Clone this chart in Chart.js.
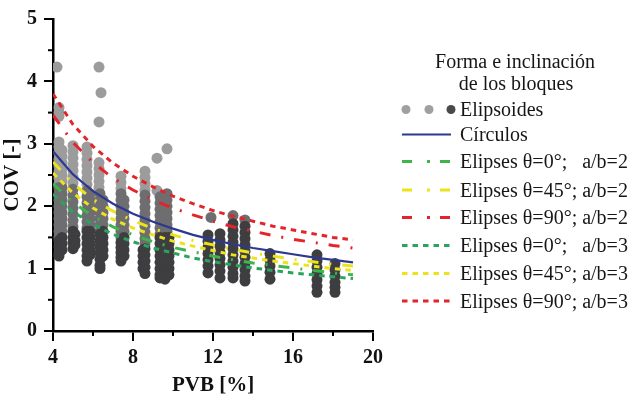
<!DOCTYPE html>
<html><head><meta charset="utf-8">
<script src="https://cdn.jsdelivr.net/npm/chart.js@4.4.1/dist/chart.umd.min.js"></script>
<style>html,body{margin:0;padding:0;background:#fff}</style>
</head><body>
<canvas id="c" width="636" height="396"></canvas>
<script>
// ---- data ----
const xTicks = [4, 8, 12, 16, 20];
const yTicks = [0, 1, 2, 3, 4, 5];
const curveX = [4,5,6,7,8,9,10,11,12,13,14,15,16,17,18,19];
const circulos   = [2.88,2.51,2.24,2.04,1.88,1.75,1.64,1.54,1.46,1.39,1.33,1.28,1.23,1.18,1.14,1.10];
const e0_ab2     = [2.36,2.06,1.84,1.67,1.54,1.43,1.34,1.27,1.20,1.14,1.09,1.05,1.01,0.97,0.93,0.90];
const e45_ab2    = [2.71,2.36,2.11,1.92,1.77,1.64,1.54,1.45,1.38,1.31,1.25,1.20,1.15,1.11,1.07,1.04];
const e90_ab2    = [3.46,3.02,2.70,2.45,2.26,2.10,1.97,1.86,1.76,1.67,1.60,1.53,1.47,1.42,1.37,1.33];
const e0_ab3     = [2.19,1.91,1.71,1.55,1.43,1.33,1.25,1.17,1.11,1.06,1.01,0.97,0.93,0.90,0.87,0.84];
const e45_ab3    = [2.53,2.21,1.97,1.79,1.65,1.54,1.44,1.36,1.29,1.22,1.17,1.12,1.08,1.04,1.00,0.97];
const e90_ab3    = [3.80,3.31,2.96,2.69,2.48,2.31,2.16,2.04,1.93,1.84,1.76,1.68,1.62,1.56,1.50,1.46];

// Elipsoides: columns of points [x, [y values]] in three grey tones
const lightCols = [
  [4.2,[4.23]],
  [4.3,[3.58,3.5,3.44,3.03,2.95,2.85,2.75,2.65,2.55,2.45,2.35]],
  [4.45,[2.9,2.8,2.7,2.6,2.5,2.4]],
  [5.0,[2.97,2.87,2.77,2.67,2.57,2.47,2.37]],
  [5.7,[2.95,2.85,2.75,2.65,2.55,2.45,2.35]],
  [6.3,[4.23,3.35,2.7,2.6,2.5,2.4,2.3]],
  [6.4,[3.82]],
  [7.4,[2.48,2.38,2.28]],
  [8.6,[2.56,2.46,2.36,2.26]],
  [9.2,[2.77,2.25]],
  [9.7,[2.92]]
];
const mediumCols = [
  [4.3,[2.3,2.2,2.1,2.0,1.9,1.8,1.7,1.6,1.5]],
  [4.45,[2.3,2.2,2.1,2.0,1.9,1.8,1.7,1.6]],
  [5.0,[2.27,2.17,2.07,1.97,1.87,1.77,1.67]],
  [5.7,[2.25,2.15,2.05,1.95,1.85,1.75,1.65]],
  [5.85,[2.2,2.1,2.0,1.9,1.8,1.7]],
  [6.35,[2.2,2.1,2.0,1.9,1.8,1.7,1.6]],
  [6.5,[2.1,2.0,1.9,1.8,1.7]],
  [7.4,[2.2,2.1,2.0,1.9,1.8,1.7,1.6,1.5]],
  [7.55,[2.1,2.0,1.9,1.8,1.7,1.6]],
  [8.6,[2.18,2.08,1.98,1.88,1.78,1.68,1.58,1.48,1.4]],
  [9.35,[2.15,2.05,1.95,1.85,1.75,1.65,1.55]],
  [9.7,[2.2,2.1,2.0,1.9,1.8,1.7,1.6]],
  [11.9,[1.82]],
  [13.0,[1.85]],
  [13.6,[1.78]]
];
const darkCols = [
  [4.3,[1.45,1.35,1.25,1.2]],
  [4.45,[1.5,1.4,1.3]],
  [5.0,[1.6,1.5,1.42,1.32]],
  [5.1,[1.55,1.45,1.38]],
  [5.7,[1.6,1.5,1.4,1.3,1.2,1.12]],
  [5.85,[1.6,1.5,1.4,1.3,1.22]],
  [6.35,[1.55,1.45,1.35,1.25,1.15,1.05,1.0]],
  [6.5,[1.6,1.5,1.4,1.3,1.2]],
  [7.4,[1.42,1.34,1.26,1.18,1.12]],
  [7.55,[1.5,1.4,1.3,1.2]],
  [8.5,[1.3,1.2,1.1,1.0]],
  [8.6,[1.32,1.22,1.12,1.02,0.92]],
  [9.35,[1.5,1.4,1.3,1.2,1.1,1.0,0.9,0.85]],
  [9.6,[1.5,1.4,1.3,1.2,1.1,1.0,0.9,0.83]],
  [9.8,[1.5,1.4,1.3,1.2,1.1,1.0,0.9]],
  [11.75,[1.54,1.44,1.34,1.24,1.14,1.04,0.93]],
  [12.35,[1.56,1.46,1.36,1.26,1.16,1.06,0.96,0.85]],
  [13.0,[1.72,1.62,1.52,1.42,1.32,1.22,1.12,1.02,0.92,0.85]],
  [13.6,[1.68,1.58,1.48,1.38,1.28,1.18,1.08,0.98,0.88,0.8]],
  [14.85,[1.24,1.14,1.04,0.94,0.83]],
  [17.2,[1.22,1.12,1.02,0.92,0.82,0.72,0.62]],
  [18.1,[1.08,0.98,0.88,0.78,0.7,0.62]]
];
const legendTitle = ['Forma e inclinación', 'de los bloques'];
const labels = ['Elipsoides','Círculos','Elipses θ=0°;   a/b=2','Elipses θ=45°; a/b=2','Elipses θ=90°; a/b=2',
                'Elipses θ=0°;   a/b=3','Elipses θ=45°; a/b=3','Elipses θ=90°; a/b=3'];
const xTitle = 'PVB [%]';
const yTitle = 'COV [-]';

// ---- build ----
const pts = cols => { const o = []; cols.forEach(([x, ys]) => ys.forEach(y => o.push({x, y}))); return o; };
const curve = ys => curveX.map((x, i) => ({x, y: ys[i]}));
const SERIF = '"Liberation Serif","Times New Roman",serif';
const DASHDOT = [11, 11, 2, 11];
const DOT = [5.5, 5];

function lineDs(label, ys, color, dash, width, order) {
  return {type: 'line', label, data: curve(ys), borderColor: color, borderWidth: width, borderDash: dash,
          pointRadius: 0, fill: false, tension: 0, order, legendDash: dash};
}
const pointDs = (data, color, order) => ({type: 'scatter', label: labels[0], data, backgroundColor: color,
          borderWidth: 0, pointRadius: 5.5, pointHoverRadius: 5.5, order});

const datasets = [
  lineDs(labels[1], circulos, '#2b3990', [], 2.2, 1),
  lineDs(labels[2], e0_ab2, '#3db54a', DASHDOT, 3, 1),
  lineDs(labels[3], e45_ab2, '#ece31c', DASHDOT, 3, 1),
  lineDs(labels[4], e90_ab2, '#e3242b', DASHDOT, 3, 1),
  lineDs(labels[5], e0_ab3, '#2aa35c', DOT, 3, 1),
  lineDs(labels[6], e45_ab3, '#ece31c', DOT, 3, 1),
  lineDs(labels[7], e90_ab3, '#e3242b', DOT, 3, 1),
  pointDs(pts(darkCols), '#3e3e40', 2),
  pointDs(pts(mediumCols), '#6e6e70', 3),
  pointDs(pts(lightCols), '#9c9c9c', 4)
];

const minorTicks = {
  id: 'minorTicks',
  afterDraw(chart) {
    const {ctx, scales: {x, y}} = chart;
    ctx.save();
    ctx.strokeStyle = '#000'; ctx.lineWidth = 2;
    [6, 10, 14, 18].forEach(v => { const px = x.getPixelForValue(v);
      ctx.beginPath(); ctx.moveTo(px, y.bottom); ctx.lineTo(px, y.bottom + 5); ctx.stroke(); });
    [0.5, 1.5, 2.5, 3.5, 4.5].forEach(v => { const py = y.getPixelForValue(v);
      ctx.beginPath(); ctx.moveTo(x.left, py); ctx.lineTo(x.left - 5, py); ctx.stroke(); });
    ctx.restore();
  }
};

const customLegend = {
  id: 'customLegend',
  afterDraw(chart) {
    const ctx = chart.ctx;
    ctx.save();
    ctx.fillStyle = '#161616';
    ctx.font = '20px ' + SERIF;
    ctx.textAlign = 'center'; ctx.textBaseline = 'alphabetic';
    ctx.fillText(legendTitle[0], 515, 68);
    ctx.fillText(legendTitle[1], 516, 90);
    const base = [116, 141, 168, 196.5, 224, 252, 280, 307.5];
    const x0 = 402, x1 = 451, tx = 460;
    ctx.textAlign = 'left';
    labels.forEach((lab, i) => {
      const yb = base[i], ys = yb - 6.5;
      if (i === 0) {
        [[406,'#a0a0a0'],[429,'#a0a0a0'],[451,'#4a4a4c']].forEach(([cx, c]) => {
          ctx.beginPath(); ctx.fillStyle = c; ctx.arc(cx, ys, 4.5, 0, Math.PI * 2); ctx.fill(); });
      } else {
        const ds = chart.data.datasets[i - 1];
        ctx.beginPath();
        ctx.strokeStyle = ds.borderColor; ctx.lineWidth = ds.borderWidth;
        ctx.setLineDash(ds.legendDash === DASHDOT ? [10, 15, 3, 10] : ds.legendDash);
        ctx.moveTo(x0, ys); ctx.lineTo(x1, ys); ctx.stroke();
        ctx.setLineDash([]);
      }
      ctx.fillStyle = '#161616';
      ctx.fillText(lab, tx, yb);
    });
    ctx.restore();
  }
};

const tickFont = {family: SERIF, size: 20, weight: 'bold'};
new Chart(document.getElementById('c'), {
  type: 'scatter',
  data: {datasets},
  options: {
    responsive: false, animation: false, devicePixelRatio: 1,
    layout: {padding: {left: 0, right: 263, top: 13, bottom: 0}},
    plugins: {legend: {display: false}, tooltip: {enabled: false}},
    scales: {
      x: {
        type: 'linear', min: 4, max: 20,
        afterFit: s => { s.height = 65; },
        afterBuildTicks: s => { s.ticks = xTicks.map(v => ({value: v})); },
        ticks: {font: tickFont, color: '#111', padding: 5, maxRotation: 0},
        grid: {drawOnChartArea: false, drawTicks: true, tickLength: 10, color: '#000', lineWidth: 2},
        border: {display: true, color: '#000', width: 2.5},
        title: {display: true, text: xTitle, color: '#111', font: {family: SERIF, size: 21, weight: 'bold', lineHeight: 1}, padding: {top: 0, bottom: 0}}
      },
      y: {
        type: 'linear', min: 0, max: 5,
        afterFit: s => { s.width = 53; },
        afterBuildTicks: s => { s.ticks = yTicks.map(v => ({value: v})); },
        ticks: {font: tickFont, color: '#111', padding: 7},
        grid: {drawOnChartArea: false, drawTicks: true, tickLength: 9, color: '#000', lineWidth: 2},
        border: {display: true, color: '#000', width: 2.5},
        title: {display: true, text: yTitle, color: '#111', font: {family: SERIF, size: 21, weight: 'bold', lineHeight: 1}, padding: {top: 2, bottom: 0}}
      }
    }
  },
  plugins: [minorTicks, customLegend]
});
</script>
</body></html>
